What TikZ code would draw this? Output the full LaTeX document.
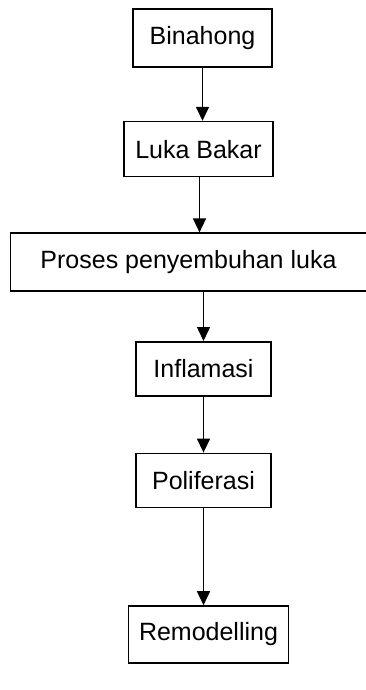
\documentclass[tikz,border=0pt]{standalone}
\usepackage{fontspec}
\setmainfont{Liberation Sans}
\usetikzlibrary{positioning,arrows.meta}

\begin{document}
\begin{tikzpicture}[x=1pt, y=-1pt,
    box/.style={draw, line width=1.6pt, inner sep=0pt, font=\fontsize{25}{29}\selectfont},
    flow/.style={line width=1.5pt, -{Triangle[length=14pt,width=13pt]}}]
    \useasboundingbox (0,0) rectangle (366,690);
    \node [box, minimum width=139pt, minimum height=58pt] (bin) at (202.5,38) {Binahong};
    \node [box, minimum width=149pt, minimum height=55pt, below=53pt of bin, xshift=-4pt] (luka) {Luka Bakar};
    \node [box, minimum width=356pt, minimum height=58pt, below=55pt of luka, xshift=-10pt] (proses) {Proses penyembuhan luka};
    \node [box, minimum width=135pt, minimum height=54pt, below=49pt of proses, xshift=15pt] (infl) {Inflamasi};
    \node [box, minimum width=135pt, minimum height=54pt, below=56pt of infl] (poli) {Poliferasi};
    \node [box, minimum width=160pt, minimum height=57pt, below=97pt of poli, xshift=5pt] (remod) {Remodelling};
    \draw [flow] (bin.south) -- (bin.south |- luka.north);
    \draw [flow] ([xshift=1pt]luka.south) -- ([xshift=1pt]luka.south |- proses.north);
    \draw [flow] (infl.north |- proses.south) -- (infl.north);
    \draw [flow] (infl.south) -- (poli.north);
    \draw [flow] (poli.south) -- (poli.south |- remod.north);
\end{tikzpicture}
\end{document}
